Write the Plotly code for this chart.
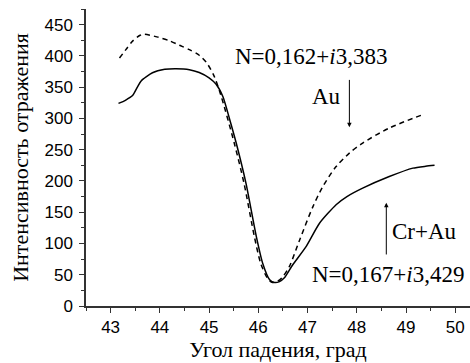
import plotly.graph_objects as go

# Cr+Au (solid)
cr_au_x = [43.16, 43.30, 43.45, 43.55, 43.62, 43.85, 44.10, 44.33, 44.60, 44.80, 45.00, 45.14,
           45.28, 45.42, 45.55, 45.75, 45.96, 46.09, 46.23, 46.33, 46.43, 46.53, 46.70, 46.97,
           47.24, 47.58, 47.80, 48.12, 48.66, 49.14, 49.40, 49.58]
cr_au_y = [324, 329, 337, 351, 360, 373, 378.5, 379.5, 378, 373.5, 365, 355,
           335, 298, 261, 196, 111, 68, 42, 37.5, 39, 45, 66, 95,
           132, 162, 175, 188.5, 207, 220.5, 223.5, 225]

# Au (dashed)
au_x = [43.18, 43.31, 43.45, 43.60, 43.68, 43.96, 44.20, 44.40, 44.60, 44.80, 44.95, 45.10,
        45.24, 45.51, 45.71, 45.92, 46.05, 46.19, 46.29, 46.40, 46.50, 46.63, 46.84, 47.11,
        47.31, 47.58, 47.85, 48.12, 48.66, 49.34]
au_y = [396.6, 410, 424, 433, 434.5, 430, 424, 417, 410, 401, 389, 368,
        337, 261, 196, 111, 68, 44, 37.5, 40, 47, 63, 105.7, 159,
        191, 223, 244.5, 260.6, 284.6, 306]

x_ticks = [43, 44, 45, 46, 47, 48, 49, 50]
y_ticks = [0, 50, 100, 150, 200, 250, 300, 350, 400, 450]

serif = "Liberation Serif, Times New Roman, serif"
sans = "Liberation Sans, Arial, sans-serif"

fig = go.Figure()
fig.add_trace(go.Scatter(x=au_x, y=au_y, mode="lines",
                         line=dict(color="black", width=1.5, dash="5px,4px", shape="spline", smoothing=0.8),
                         showlegend=False, hoverinfo="skip"))
fig.add_trace(go.Scatter(x=cr_au_x, y=cr_au_y, mode="lines",
                         line=dict(color="black", width=1.5, shape="spline", smoothing=0.6),
                         showlegend=False, hoverinfo="skip"))

ann_font = dict(family=serif, size=23, color="black")
fig.add_annotation(x=45.48, y=399, text="N=0,162+<i>i</i>3,383", showarrow=False, font=ann_font,
                   xanchor="left")
fig.add_annotation(x=47.375, y=335, text="Au", showarrow=False, font=ann_font)
fig.add_annotation(x=50.08, y=119, text="Cr+Au", showarrow=False, font=ann_font, xanchor="right")
fig.add_annotation(x=50.22, y=50, text="N=0,167+<i>i</i>3,429", showarrow=False, font=ann_font,
                   xanchor="right")

# arrows
fig.add_annotation(x=47.85, y=286, ax=47.85, ay=364, xref="x", yref="y", axref="x", ayref="y",
                   text="", showarrow=True, arrowhead=2, arrowsize=0.9, arrowwidth=1, arrowcolor="black")
fig.add_annotation(x=48.60, y=165, ax=48.60, ay=80, xref="x", yref="y", axref="x", ayref="y",
                   text="", showarrow=True, arrowhead=2, arrowsize=0.9, arrowwidth=1, arrowcolor="black")

axis_common = dict(showline=True, linecolor="#333333", linewidth=1.5, ticks="outside",
                   ticklen=5, tickwidth=1.2, tickcolor="#333333", showgrid=False, zeroline=False,
                   tickfont=dict(family=sans, size=17, color="black"))

fig.update_xaxes(range=[42.5, 50.3], tickvals=x_ticks, ticktext=[str(v) for v in x_ticks],
                 minor=dict(ticks="outside", ticklen=3, tickcolor="#333333", dtick=0.5, tick0=42.5),
                 title=dict(text="Угол падения, град", font=dict(family=serif, size=22, color="black"),
                            standoff=3),
                 **axis_common)
fig.update_yaxes(range=[0, 475], tickvals=y_ticks, ticktext=[str(v) for v in y_ticks],
                 minor=dict(ticks="outside", ticklen=3, tickcolor="#333333", dtick=25, tick0=0),
                 ticklabelstandoff=3,
                 title=dict(text="Интенсивность отражения", font=dict(family=serif, size=22, color="black"),
                            standoff=10),
                 **axis_common)

fig.update_layout(width=470, height=363, margin=dict(l=86, r=0, t=9, b=57),
                  plot_bgcolor="white", paper_bgcolor="white")

fig.write_html("out.html", config={"displayModeBar": False},
               post_script="document.body.style.margin='0';")
